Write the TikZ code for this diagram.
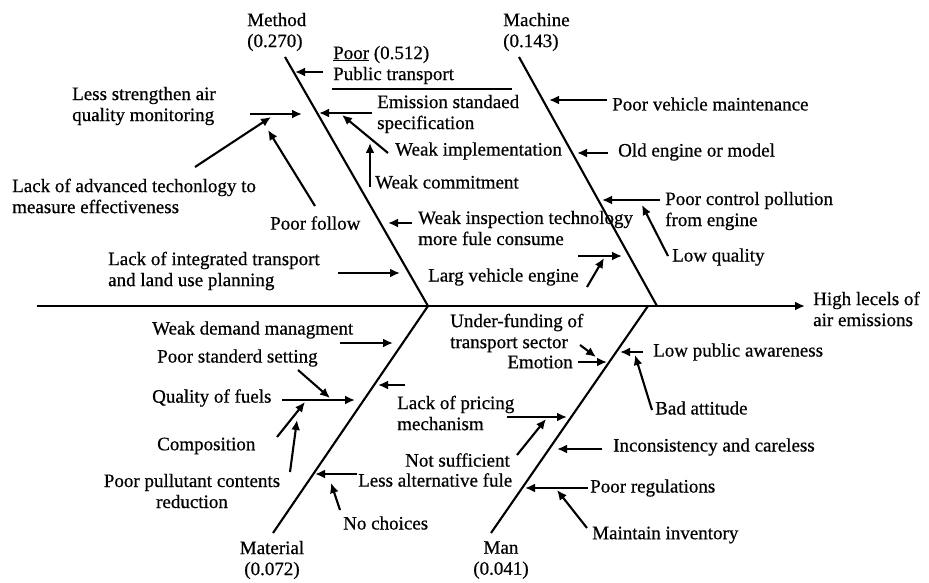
\documentclass[tikz,border=0pt]{standalone}
\usepackage{fontspec}
\setmainfont{Liberation Serif}[FakeBold=0.6]
\usetikzlibrary{arrows.meta}
\tikzset{
  lbl/.style={inner sep=0pt, font=\fontsize{19}{21}\selectfont},
  bone/.style={line width=2.1pt},
  arr/.style={line width=2.1pt, -{Latex[length=10pt,width=9pt]}},
}
\begin{document}
\begin{tikzpicture}[x=1pt,y=-1pt]
\useasboundingbox (0,0) rectangle (929,583);

% ---- spine and main bones ----
\coordinate (spL) at (37,306);
\coordinate (spR) at (805,306);
\coordinate (mTop) at (285,57);
\coordinate (mBot) at (428,306);
\coordinate (cTop) at (519,57);
\coordinate (cBot) at (657,306);
\coordinate (tTop) at (428,306);
\coordinate (tBot) at (273,533);
\coordinate (nTop) at (648,306);
\coordinate (nBot) at (491,533);
\draw[arr] (spL) -- (spR);
\draw[bone] (mTop) -- (mBot);
\draw[bone] (cTop) -- (cBot);
\draw[bone] (tTop) -- (tBot);
\draw[bone] (nTop) -- (nBot);

% ---- category and effect labels ----
\node[lbl, anchor=west, align=left] (method) at (247,32) {Method\\(0.270)};
\node[lbl, anchor=west, align=left] (machine) at (503,32) {Machine\\(0.143)};
\node[lbl, align=center] (material) at (272,560) {Material\\(0.072)};
\node[lbl, align=center] (man) at (501,560) {Man\\(0.041)};
\node[lbl, anchor=west, align=left] (effect) at (813,309) {High lecels of\\air emissions};

% ---- Method causes ----
\node[lbl, anchor=west, align=left] (poorpt) at (333,65) {\underline{Poor} (0.512)\\Public transport};
\coordinate (ptRuleL) at (332,89);
\coordinate (ptRuleR) at (512,89);
\draw[bone] (ptRuleL) -- (ptRuleR);
\coordinate (ptT) at (323,72); \coordinate (ptH) at (295,72);
\draw[arr] (ptT) -- (ptH);

\node[lbl, anchor=west, align=left] (emis) at (377,114) {Emission standaed\\specification};
\coordinate (emT) at (372,113); \coordinate (emH) at (319,113);
\draw[arr] (emT) -- (emH);
\node[lbl, anchor=west] (weakimp) at (395,151) {Weak implementation};
\coordinate (wiT) at (388,153); \coordinate (wiH) at (342,115);
\draw[arr] (wiT) -- (wiH);
\node[lbl, anchor=west] (weakcom) at (375,182) {Weak commitment};
\coordinate (wcT) at (370,187); \coordinate (wcH) at (370,143);
\draw[arr] (wcT) -- (wcH);

\node[lbl, anchor=west, align=left] (lessstr) at (72,106) {Less strengthen air\\quality monitoring};
\coordinate (lsT) at (250,114); \coordinate (lsH) at (302,114);
\draw[arr] (lsT) -- (lsH);
\node[lbl, anchor=west, align=left] (lackadv) at (12,196) {Lack of advanced techonlogy to\\measure effectiveness};
\coordinate (laT) at (195,167); \coordinate (laH) at (271,117);
\draw[arr] (laT) -- (laH);
\node[lbl, anchor=west] (poorfol) at (270,223) {Poor follow};
\coordinate (pfT) at (315,206); \coordinate (pfH) at (268,130);
\draw[arr] (pfT) -- (pfH);
\node[lbl, anchor=west, align=left] (lackint) at (108,271) {Lack of integrated transport\\and land use planning};
\coordinate (liT) at (338,273); \coordinate (liH) at (400,273);
\draw[arr] (liT) -- (liH);

\node[lbl, anchor=west, align=left] (weakins) at (418,228) {Weak inspection technology\\more fule consume};
\coordinate (wnT) at (412,223); \coordinate (wnH) at (388,223);
\draw[arr] (wnT) -- (wnH);
\node[lbl, anchor=west] (larg) at (428,277) {Larg vehicle engine};
\coordinate (lvT) at (578,256); \coordinate (lvH) at (622,256);
\draw[arr] (lvT) -- (lvH);
\coordinate (lvdT) at (587,287); \coordinate (lvdH) at (604,258);
\draw[arr] (lvdT) -- (lvdH);

% ---- Machine causes ----
\node[lbl, anchor=west] (pvm) at (612,104) {Poor vehicle maintenance};
\coordinate (pvT) at (607,100); \coordinate (pvH) at (549,100);
\draw[arr] (pvT) -- (pvH);
\node[lbl, anchor=west] (oldeng) at (618,152) {Old engine or model};
\coordinate (oeT) at (608,153); \coordinate (oeH) at (577,153);
\draw[arr] (oeT) -- (oeH);
\node[lbl, anchor=west, align=left] (poorctl) at (665,211) {Poor control pollution\\from engine};
\coordinate (pcT) at (660,200); \coordinate (pcH) at (602,200);
\draw[arr] (pcT) -- (pcH);
\node[lbl, anchor=west] (lowq) at (672,257) {Low quality};
\coordinate (lqT) at (668,256); \coordinate (lqH) at (642,205);
\draw[arr] (lqT) -- (lqH);

% ---- Material causes ----
\node[lbl, anchor=west] (weakdem) at (152,330) {Weak demand managment};
\coordinate (wdT) at (340,343); \coordinate (wdH) at (393,343);
\draw[arr] (wdT) -- (wdH);
\node[lbl, anchor=west] (poorstd) at (157,358) {Poor standerd setting};
\coordinate (psT) at (298,370); \coordinate (psH) at (330,398);
\draw[arr] (psT) -- (psH);
\node[lbl, anchor=west] (qualf) at (152,398) {Quality of fuels};
\coordinate (qfT) at (282,400); \coordinate (qfH) at (355,400);
\draw[arr] (qfT) -- (qfH);
\node[lbl, anchor=west] (compo) at (157,446) {Composition};
\coordinate (coT) at (277,437); \coordinate (coH) at (305,402);
\draw[arr] (coT) -- (coH);
\node[lbl, align=center] (poorpul) at (192,491) {Poor pullutant contents\\reduction};
\coordinate (ppT) at (290,472); \coordinate (ppH) at (297,420);
\draw[arr] (ppT) -- (ppH);

\coordinate (lpmT) at (405,385); \coordinate (lpmH) at (378,385);
\draw[arr] (lpmT) -- (lpmH);
\node[lbl, anchor=west, align=left] (lackpr) at (397,413) {Lack of pricing\\mechanism};
\node[lbl, anchor=west] (notsuf) at (405,460) {Not sufficient};
\node[lbl, anchor=west] (lessalt) at (358,480) {Less alternative fule};
\coordinate (lfT) at (357,474); \coordinate (lfH) at (315,474);
\draw[arr] (lfT) -- (lfH);
\node[lbl, anchor=west] (nochoi) at (343,523) {No choices};
\coordinate (ncT) at (340,510); \coordinate (ncH) at (331,483);
\draw[arr] (ncT) -- (ncH);

% ---- Man causes ----
\coordinate (lprT) at (507,417); \coordinate (lprH) at (567,417);
\draw[arr] (lprT) -- (lprH);
\coordinate (nsT) at (517,455); \coordinate (nsH) at (546,419);
\draw[arr] (nsT) -- (nsH);
\node[lbl, anchor=west, align=left] (underf) at (450,333) {Under-funding of\\transport sector};
\coordinate (ufT) at (580,345); \coordinate (ufH) at (596,357);
\draw[arr] (ufT) -- (ufH);
\node[lbl, anchor=east] (emot) at (573,362) {Emotion};
\coordinate (eoT) at (578,362); \coordinate (eoH) at (607,362);
\draw[arr] (eoT) -- (eoH);
\node[lbl, anchor=west] (lowpub) at (653,352) {Low public awareness};
\coordinate (lpT) at (643,352); \coordinate (lpH) at (620,352);
\draw[arr] (lpT) -- (lpH);
\node[lbl, anchor=west] (badatt) at (655,408) {Bad attitude};
\coordinate (baT) at (652,410); \coordinate (baH) at (635,355);
\draw[arr] (baT) -- (baH);
\node[lbl, anchor=west] (incons) at (613,447) {Inconsistency and careless};
\coordinate (icT) at (602,449); \coordinate (icH) at (557,449);
\draw[arr] (icT) -- (icH);
\node[lbl, anchor=west] (poorreg) at (590,488) {Poor regulations};
\coordinate (prT) at (588,488); \coordinate (prH) at (525,488);
\draw[arr] (prT) -- (prH);
\node[lbl, anchor=west] (maint) at (592,535) {Maintain inventory};
\coordinate (miT) at (587,528); \coordinate (miH) at (557,490);
\draw[arr] (miT) -- (miH);
\end{tikzpicture}
\end{document}
